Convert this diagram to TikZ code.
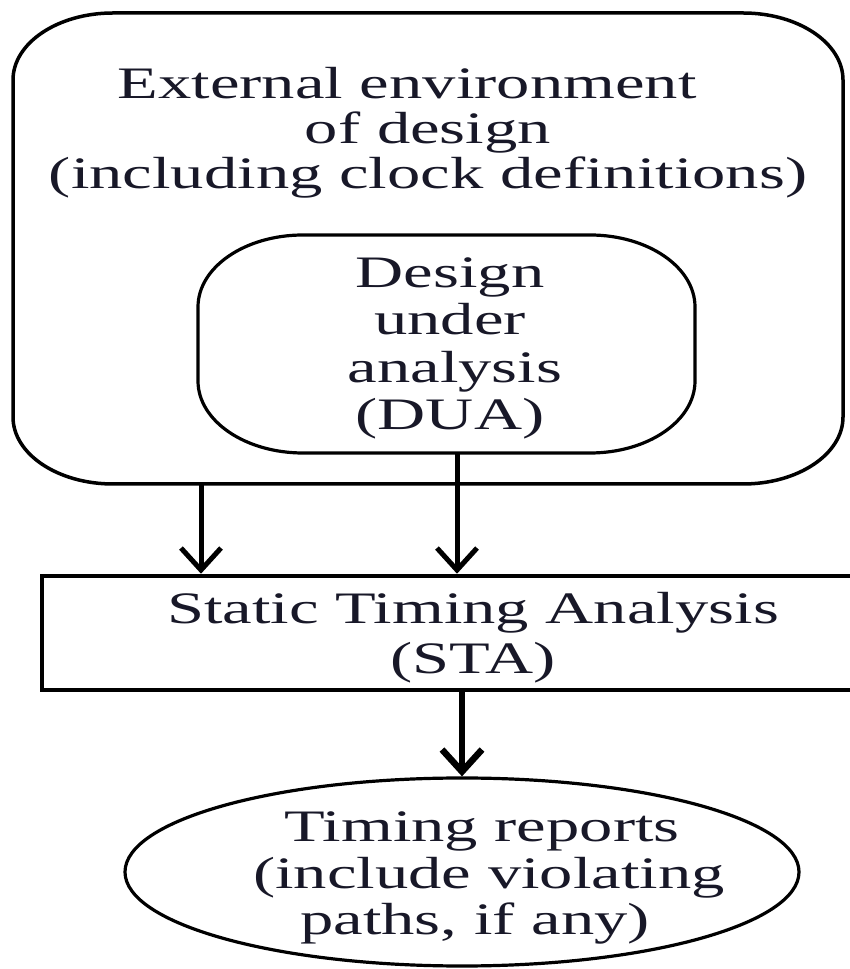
\documentclass[tikz,border=0pt]{standalone}
\usepackage{fontspec}
\setmainfont{Liberation Serif}[FakeStretch=1.48]
\usetikzlibrary{shapes.geometric,arrows.meta}
\definecolor{ink}{RGB}{24,24,40}
\newcommand\ellrbox[4]{%
  \draw[#4] ([xshift=#2]#1.north west) -- ([xshift=-#2]#1.north east)
    arc[start angle=90,end angle=0,x radius=#2,y radius=#3]
    -- ([yshift=#3]#1.south east)
    arc[start angle=0,end angle=-90,x radius=#2,y radius=#3]
    -- ([xshift=#2]#1.south west)
    arc[start angle=270,end angle=180,x radius=#2,y radius=#3]
    -- ([yshift=-#3]#1.north west)
    arc[start angle=180,end angle=90,x radius=#2,y radius=#3] -- cycle;}
\tikzset{
  frame/.style={draw=none,inner sep=0pt,outer sep=0pt},
  label text/.style={inner sep=0pt,outer sep=0pt,align=center,text=ink},
  arr/.style={line width=5pt,-{Straight Barb[length=22pt,width=40pt]}},
}
\begin{document}
\begin{tikzpicture}[x=1pt,y=1pt]
\useasboundingbox (0,0) rectangle (850,969);
\clip (0,0) rectangle (850,969);
% boxes
\node[frame,minimum width=830pt,minimum height=471pt] (outer) at (428,720.5) {};
\node[frame,minimum width=497pt,minimum height=218pt] (inner) at (446.5,625) {};
\ellrbox{outer}{100pt}{67pt}{line width=3.5pt}
\ellrbox{inner}{105pt}{72pt}{line width=3.2pt}
\node[draw,line width=4.5pt,inner sep=0pt,minimum width=838pt,minimum height=114pt] (sta) at (461,336) {};
\node[draw,ellipse,line width=3.2pt,inner sep=0pt,minimum width=674pt,minimum height=188pt] (rep) at (462,97) {};
% texts
\node[label text,font=\fontsize{45}{45}\selectfont] (envtext) at (428,836)
  {External environment\hspace*{42pt}\\of design\hspace*{30pt}\\(including clock definitions)};
\node[label text,font=\fontsize{45}{47.5}\selectfont] (duatext) at (450,620.5)
  {Design\\under\\\hspace*{10pt}analysis\\(DUA)};
\node[label text,font=\fontsize{45}{50}\selectfont] (statext) at (473,331.5)
  {Static Timing Analysis\\(STA)};
\node[label text,font=\fontsize{45}{46.5}\selectfont] (reptext) at (482,91)
  {Timing reports\\\hspace*{14pt}(include violating\\paths, if any)\hspace*{14pt}};
% connectors
\coordinate (a1) at (201,0);
\coordinate (a2) at (457,0);
\draw[arr] (outer.south -| a1) -- (sta.north -| a1);
\draw[arr] (inner.south -| a2) -- (sta.north -| a2);
\draw[arr,line width=6.5pt] (sta.south -| rep.north) -- (rep.north);
\end{tikzpicture}
\end{document}
